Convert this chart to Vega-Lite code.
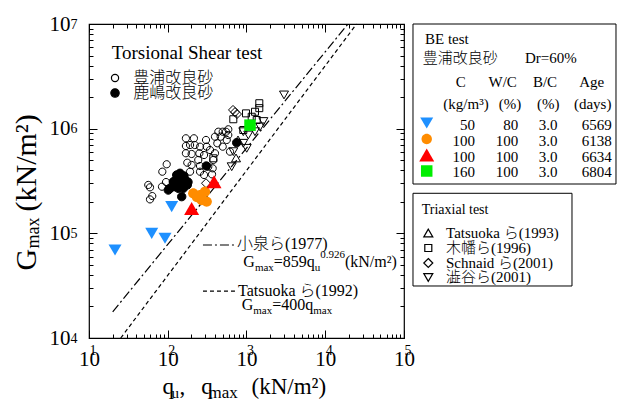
{
  "$schema": "https://vega.github.io/schema/vega-lite/v6.json",
  "width": 315,
  "height": 314,
  "autosize": {"type": "none"},
  "padding": {"left": 89, "top": 24, "right": 215, "bottom": 68},
  "background": "white",
  "config": {
    "view": {"stroke": "black", "strokeWidth": 1.2},
    "axis": {"grid": false, "domain": false, "labelFont": "Liberation Serif", "titleFont": "Liberation Serif", "labelColor": "black", "titleColor": "black", "tickColor": "black", "tickWidth": 1, "titleFontWeight": "normal", "labelFlush": false, "labelOverlap": false, "labelBound": false, "titlePadding": 0}
  },
  "datasets": {
    "pts": [
      {"s": "shibuya01", "q": 2994, "G": 2100000}, {"s": "shibuya01", "q": 1635, "G": 1170000}, {"s": "shibuya01", "q": 1484, "G": 1040000}, {"s": "shibuya01", "q": 1282, "G": 935000}, {"s": "shibuya01", "q": 911, "G": 935000}, {"s": "shibuya01", "q": 1054, "G": 870000}, {"s": "shibuya01", "q": 911, "G": 725000}, {"s": "shibuya01", "q": 1006, "G": 649000}, {"s": "shibuya01", "q": 680, "G": 603000}, {"s": "shibuya01", "q": 649, "G": 433000},
      {"s": "kohata96", "q": 1454, "G": 1750000}, {"s": "kohata96", "q": 1454, "G": 1570000}, {"s": "kohata96", "q": 1282, "G": 1450000}, {"s": "kohata96", "q": 986, "G": 1400000}, {"s": "kohata96", "q": 680, "G": 1230000}, {"s": "kohata96", "q": 1164, "G": 1300000}, {"s": "kohata96", "q": 1348, "G": 1210000}, {"s": "kohata96", "q": 911, "G": 971000}, {"s": "kohata96", "q": 379, "G": 521000},
      {"s": "schnaid01", "q": 674, "G": 1510000}, {"s": "schnaid01", "q": 715, "G": 1440000}, {"s": "schnaid01", "q": 758, "G": 1380000}, {"s": "schnaid01", "q": 306, "G": 301000},
      {"s": "tatsuoka93", "q": 780, "G": 780000}, {"s": "tatsuoka93", "q": 736, "G": 525000},
      {"s": "toyoura", "q": 56.6, "G": 290000}, {"s": "toyoura", "q": 59.5, "G": 275000}, {"s": "toyoura", "q": 63.6, "G": 227000}, {"s": "toyoura", "q": 59.5, "G": 211000}, {"s": "toyoura", "q": 84.5, "G": 279000}, {"s": "toyoura", "q": 85.3, "G": 388000}, {"s": "toyoura", "q": 97, "G": 457000}, {"s": "toyoura", "q": 95.1, "G": 309000},
      {"s": "toyoura", "q": 170, "G": 809000}, {"s": "toyoura", "q": 215, "G": 809000}, {"s": "toyoura", "q": 306, "G": 780000}, {"s": "toyoura", "q": 170, "G": 683000}, {"s": "toyoura", "q": 192, "G": 698000}, {"s": "toyoura", "q": 220, "G": 698000}, {"s": "toyoura", "q": 257, "G": 673000}, {"s": "toyoura", "q": 312, "G": 673000},
      {"s": "toyoura", "q": 170, "G": 582000}, {"s": "toyoura", "q": 201, "G": 573000}, {"s": "toyoura", "q": 252, "G": 582000}, {"s": "toyoura", "q": 289, "G": 560000}, {"s": "toyoura", "q": 344, "G": 625000}, {"s": "toyoura", "q": 177, "G": 473000}, {"s": "toyoura", "q": 201, "G": 450000}, {"s": "toyoura", "q": 257, "G": 440000},
      {"s": "toyoura", "q": 244, "G": 502000}, {"s": "toyoura", "q": 379, "G": 502000}, {"s": "toyoura", "q": 398, "G": 582000}, {"s": "toyoura", "q": 426, "G": 725000}, {"s": "toyoura", "q": 439, "G": 935000}, {"s": "toyoura", "q": 499, "G": 935000}, {"s": "toyoura", "q": 549, "G": 935000}, {"s": "toyoura", "q": 587, "G": 986000},
      {"s": "toyoura", "q": 470, "G": 838000}, {"s": "toyoura", "q": 587, "G": 870000}, {"s": "toyoura", "q": 499, "G": 673000}, {"s": "toyoura", "q": 617, "G": 603000}, {"s": "toyoura", "q": 561, "G": 780000}, {"s": "toyoura", "q": 372, "G": 418000}, {"s": "toyoura", "q": 365, "G": 366000}, {"s": "toyoura", "q": 327, "G": 433000},
      {"s": "toyoura", "q": 192, "G": 388000}, {"s": "toyoura", "q": 257, "G": 388000}, {"s": "toyoura", "q": 289, "G": 361000}, {"s": "toyoura", "q": 398, "G": 838000},
      {"s": "kashima", "q": 106.8, "G": 269000}, {"s": "kashima", "q": 117.6, "G": 311000}, {"s": "kashima", "q": 129.9, "G": 361000}, {"s": "kashima", "q": 143.1, "G": 375000}, {"s": "kashima", "q": 150.4, "G": 343000}, {"s": "kashima", "q": 165.6, "G": 323000}, {"s": "kashima", "q": 177.1, "G": 290000}, {"s": "kashima", "q": 157.6, "G": 269000}, {"s": "kashima", "q": 136.1, "G": 269000},
      {"s": "kashima", "q": 120.1, "G": 279000}, {"s": "kashima", "q": 143.1, "G": 301000}, {"s": "kashima", "q": 127.3, "G": 323000}, {"s": "kashima", "q": 101.6, "G": 259000}, {"s": "kashima", "q": 150.4, "G": 224000}, {"s": "kashima", "q": 308.7, "G": 440000}, {"s": "kashima", "q": 750.8, "G": 735000}, {"s": "kashima", "q": 160.8, "G": 353000}, {"s": "kashima", "q": 180.8, "G": 309000},
      {"s": "BE50", "q": 21.4, "G": 69300}, {"s": "BE50", "q": 62.6, "G": 100000}, {"s": "BE50", "q": 92.3, "G": 89700}, {"s": "BE50", "q": 112.2, "G": 180000},
      {"s": "BE100o", "q": 211, "G": 241000}, {"s": "BE100o", "q": 257, "G": 232000}, {"s": "BE100o", "q": 297, "G": 250000}, {"s": "BE100o", "q": 312, "G": 201000}, {"s": "BE100o", "q": 270, "G": 208000}, {"s": "BE100o", "q": 235, "G": 222000},
      {"s": "BE100t", "q": 387, "G": 311000}, {"s": "BE100t", "q": 201, "G": 173000},
      {"s": "BE160", "q": 1108, "G": 1080000}
    ],
    "keys": [
      {"s": "toyoura", "q": 21.4, "G": 3050000}, {"s": "kashima", "q": 21.4, "G": 2190000},
      {"s": "BE50", "q": 194300, "G": 1133000}, {"s": "BE100o", "q": 194300, "G": 796800}, {"s": "BE100t", "q": 194300, "G": 560300}, {"s": "BE160", "q": 194300, "G": 394100},
      {"s": "tatsuoka93", "q": 203500, "G": 100700}, {"s": "kohata96", "q": 203500, "G": 72400}, {"s": "schnaid01", "q": 203500, "G": 52060}, {"s": "shibuya01", "q": 203500, "G": 37860}
    ],
    "lines": [
      {"id": "Koizumi 1977", "type": "dashdot", "q": 20, "G": 17800}, {"id": "Koizumi 1977", "type": "dashdot", "q": 19450, "G": 10000000},
      {"id": "Tatsuoka 1992", "type": "dash", "q": 25.3, "G": 10000}, {"id": "Tatsuoka 1992", "type": "dash", "q": 25000, "G": 10000000},
      {"id": "key Koizumi", "type": "dashdot", "q": 280, "G": 77400}, {"id": "key Koizumi", "type": "dashdot", "q": 736, "G": 77400},
      {"id": "key Tatsuoka", "type": "dash", "q": 280, "G": 28100}, {"id": "key Tatsuoka", "type": "dash", "q": 736, "G": 28100}
    ],
    "boxes": [
      {"box": "BE test", "x1": 130100, "x2": 49200000, "y1": 10000000, "y2": 296000},
      {"box": "Triaxial test", "x1": 130100, "x2": 13590000, "y1": 241300, "y2": 31400}
    ],
    "t19": [{"t": "Torsional Shear test", "q": 19.4, "G": 4630000}],
    "t16m": [
      {"t": "豊浦改良砂", "q": 36.5, "G": 3050000}, {"t": "鹿嶋改良砂", "q": 36.5, "G": 2190000},
      {"t": "小泉ら(1977)", "q": 757, "G": 79100}, {"t": "Tatsuoka ら(1992)", "q": 780, "G": 28120}
    ],
    "t16a": [
      {"t": "G", "q": 911, "G": 47690}, {"t": "=859q", "q": 2221, "G": 47690}, {"t": "(kN/m²)", "q": 17810, "G": 47690},
      {"t": "G", "q": 869, "G": 18520}, {"t": "=400q", "q": 2120, "G": 18520}
    ],
    "t11a": [
      {"t": "max", "q": 1279, "G": 43680}, {"t": "u", "q": 7369, "G": 43680}, {"t": "0.926", "q": 8652, "G": 57500},
      {"t": "max", "q": 1220, "G": 16960}, {"t": "max", "q": 7031, "G": 16960}
    ],
    "t15l": [
      {"t": "BE test", "q": 184800, "G": 7190000}, {"t": "豊浦改良砂", "q": 172800, "G": 4700000}, {"t": "Dr=60%", "q": 3440000, "G": 4700000},
      {"t": "Tatsuoka ら(1993)", "q": 341600, "G": 100700}, {"t": "木幡ら(1996)", "q": 341600, "G": 72400}, {"t": "Schnaid ら(2001)", "q": 341600, "G": 52060}, {"t": "澁谷ら(2001)", "q": 341600, "G": 37860}
    ],
    "t14l": [{"t": "Triaxial test", "q": 167800, "G": 167100}],
    "t15c": [
      {"t": "C", "q": 524800, "G": 2810000}, {"t": "W/C", "q": 1792000, "G": 2810000}, {"t": "B/C", "q": 6174000, "G": 2810000}, {"t": "Age", "q": 24180000, "G": 2810000},
      {"t": "(kg/m³)", "q": 612900, "G": 1709000}, {"t": "(%)", "q": 2218000, "G": 1709000}, {"t": "(%)", "q": 6799000, "G": 1709000}, {"t": "(days)", "q": 24900000, "G": 1709000},
      {"t": "3.0", "q": 6739000, "G": 1084000}, {"t": "3.0", "q": 6739000, "G": 762500}, {"t": "3.0", "q": 6739000, "G": 539800}, {"t": "3.0", "q": 6739000, "G": 388100}
    ],
    "t15r": [
      {"t": "50", "q": 797400, "G": 1084000}, {"t": "100", "q": 797400, "G": 762500}, {"t": "100", "q": 797400, "G": 539800}, {"t": "160", "q": 797400, "G": 388100},
      {"t": "80", "q": 2828000, "G": 1084000}, {"t": "100", "q": 2828000, "G": 762500}, {"t": "100", "q": 2828000, "G": 539800}, {"t": "100", "q": 2828000, "G": 388100},
      {"t": "6569", "q": 43400000, "G": 1084000}, {"t": "6138", "q": 43400000, "G": 762500}, {"t": "6634", "q": 43400000, "G": 539800}, {"t": "6804", "q": 43400000, "G": 388100}
    ]
  },
  "layer": [
    {
      "data": {"name": "boxes"},
      "mark": {"type": "rect", "fill": "black", "xOffset": 3, "yOffset": 3},
      "encoding": {
        "x": {"field": "x1", "type": "quantitative", "scale": {"type": "log", "domain": [10, 100000], "nice": false}, "axis": null},
        "x2": {"field": "x2"},
        "y": {"field": "y1", "type": "quantitative", "scale": {"type": "log", "domain": [10000, 10000000], "nice": false}, "axis": null},
        "y2": {"field": "y2"}
      }
    },
    {
      "data": {"name": "boxes"},
      "mark": {"type": "rect", "fill": "white", "stroke": "black", "strokeWidth": 1},
      "encoding": {
        "x": {"field": "x1", "type": "quantitative", "scale": {"type": "log", "domain": [10, 100000], "nice": false}, "axis": null},
        "x2": {"field": "x2"},
        "y": {"field": "y1", "type": "quantitative", "scale": {"type": "log", "domain": [10000, 10000000], "nice": false}, "axis": null},
        "y2": {"field": "y2"}
      }
    },
    {
      "data": {"name": "lines"},
      "mark": {"type": "line", "color": "black", "strokeWidth": 1.2},
      "encoding": {
        "x": {"field": "q", "type": "quantitative", "scale": {"type": "log", "domain": [10, 100000], "nice": false},
          "axis": {"orient": "bottom", "values": [10, 100, 1000, 10000, 100000], "ticks": false, "labelExpr": "'10'", "labelFontSize": 21, "labelAlign": "center", "labelBaseline": "alphabetic", "labelPadding": 27,
            "title": "q", "titleFontSize": 23, "titleX": 73, "titleY": 55, "titleAlign": "left", "titleBaseline": "alphabetic", "titleAngle": 0}},
        "y": {"field": "G", "type": "quantitative", "scale": {"type": "log", "domain": [10000, 10000000], "nice": false},
          "axis": {"orient": "left", "values": [10000, 100000, 1000000, 10000000], "ticks": false, "labelExpr": "'10'", "labelFontSize": 21, "labelAlign": "right", "labelBaseline": "middle", "labelPadding": 19, "labelDy": -1,
            "title": "G", "titleFontSize": 30, "titleX": -54, "titleY": 246, "titleAlign": "left", "titleBaseline": "alphabetic", "titleAngle": 270}},
        "detail": {"field": "id", "type": "nominal"},
        "strokeDash": {"field": "type", "type": "nominal", "scale": {"domain": ["dashdot", "dash"], "range": [[9, 3, 2, 3], [4, 3]]}, "legend": null}
      }
    },
    {
      "data": {"name": "pts"},
      "mark": {"type": "point", "opacity": 1, "strokeWidth": 1, "size": 4},
      "encoding": {
        "x": {"field": "q", "type": "quantitative", "scale": {"type": "log", "domain": [10, 100000], "nice": false},
          "axis": {"orient": "bottom", "values": [10, 100, 1000, 10000, 100000], "ticks": false, "labelExpr": "'' + round(log(datum.value) / LN10)", "labelFontSize": 14, "labelAlign": "left", "labelBaseline": "alphabetic", "labelPadding": 16, "labelDx": 11,
            "title": "u", "titleFontSize": 15, "titleX": 82, "titleY": 59, "titleAlign": "left", "titleBaseline": "alphabetic", "titleAngle": 0}},
        "y": {"field": "G", "type": "quantitative", "scale": {"type": "log", "domain": [10000, 10000000], "nice": false},
          "axis": {"orient": "left", "values": [10000, 100000, 1000000, 10000000], "ticks": false, "labelExpr": "'' + round(log(datum.value) / LN10)", "labelFontSize": 14, "labelAlign": "left", "labelBaseline": "middle", "labelPadding": 19, "labelDy": -7,
            "title": "max", "titleFontSize": 18, "titleX": -51, "titleY": 224, "titleAlign": "left", "titleBaseline": "alphabetic", "titleAngle": 270}},
        "shape": {"field": "s", "type": "nominal", "legend": null, "scale": {
          "domain": ["toyoura", "kashima", "BE50", "BE100o", "BE100t", "BE160", "tatsuoka93", "kohata96", "schnaid01", "shibuya01"],
          "range": ["M3.6,0A3.6,3.6,0,1,1,-3.6,0A3.6,3.6,0,1,1,3.6,0Z", "M4.2,0A4.2,4.2,0,1,1,-4.2,0A4.2,4.2,0,1,1,4.2,0Z", "M0,5.6L-6.5,-5.6L6.5,-5.6Z", "M5.2,0A5.2,5.2,0,1,1,-5.2,0A5.2,5.2,0,1,1,5.2,0Z", "M0,-6.5L-7.5,6.5L7.5,6.5Z", "M-5.75,-5.75L5.75,-5.75L5.75,5.75L-5.75,5.75Z", "M0,-3.9L-4.5,3.9L4.5,3.9Z", "M-3.5,-3.5L3.5,-3.5L3.5,3.5L-3.5,3.5Z", "M0,-4.5L4.5,0L0,4.5L-4.5,0Z", "M0,3.9L-4.5,-3.9L4.5,-3.9Z"]}},
        "fill": {"field": "s", "type": "nominal", "legend": null, "scale": {
          "domain": ["toyoura", "kashima", "BE50", "BE100o", "BE100t", "BE160", "tatsuoka93", "kohata96", "schnaid01", "shibuya01"],
          "range": ["transparent", "black", "#1E90FF", "#FF8C00", "#FF0000", "#00EE00", "transparent", "transparent", "transparent", "transparent"]}},
        "stroke": {"field": "s", "type": "nominal", "legend": null, "scale": {
          "domain": ["toyoura", "kashima", "BE50", "BE100o", "BE100t", "BE160", "tatsuoka93", "kohata96", "schnaid01", "shibuya01"],
          "range": ["black", "black", "transparent", "transparent", "transparent", "transparent", "black", "black", "black", "black"]}}
      }
    },
    {
      "data": {"name": "keys"},
      "mark": {"type": "point", "opacity": 1, "strokeWidth": 1.2, "size": 4},
      "encoding": {
        "x": {"field": "q", "type": "quantitative", "scale": {"type": "log", "domain": [10, 100000], "nice": false},
          "axis": {"orient": "bottom", "values": [10, 100, 1000, 10000, 100000], "labels": false, "tickSize": -8,
            "title": ",\u2002\u2009q", "titleFontSize": 23, "titleX": 90, "titleY": 55, "titleAlign": "left", "titleBaseline": "alphabetic", "titleAngle": 0}},
        "y": {"field": "G", "type": "quantitative", "scale": {"type": "log", "domain": [10000, 10000000], "nice": false},
          "axis": {"orient": "left", "values": [10000, 100000, 1000000, 10000000], "labels": false, "tickSize": -8,
            "title": "(kN/m²)", "titleFontSize": 30, "titleX": -54, "titleY": 187, "titleAlign": "left", "titleBaseline": "alphabetic", "titleAngle": 270}},
        "shape": {"field": "s", "type": "nominal", "legend": null, "scale": {
          "domain": ["toyoura", "kashima", "BE50", "BE100o", "BE100t", "BE160", "tatsuoka93", "kohata96", "schnaid01", "shibuya01"],
          "range": ["M3.6,0A3.6,3.6,0,1,1,-3.6,0A3.6,3.6,0,1,1,3.6,0Z", "M4.2,0A4.2,4.2,0,1,1,-4.2,0A4.2,4.2,0,1,1,4.2,0Z", "M0,5.6L-6.5,-5.6L6.5,-5.6Z", "M5.2,0A5.2,5.2,0,1,1,-5.2,0A5.2,5.2,0,1,1,5.2,0Z", "M0,-6.5L-7.5,6.5L7.5,6.5Z", "M-5.75,-5.75L5.75,-5.75L5.75,5.75L-5.75,5.75Z", "M0,-3.9L-4.5,3.9L4.5,3.9Z", "M-3.5,-3.5L3.5,-3.5L3.5,3.5L-3.5,3.5Z", "M0,-4.5L4.5,0L0,4.5L-4.5,0Z", "M0,3.9L-4.5,-3.9L4.5,-3.9Z"]}},
        "fill": {"field": "s", "type": "nominal", "legend": null, "scale": {
          "domain": ["toyoura", "kashima", "BE50", "BE100o", "BE100t", "BE160", "tatsuoka93", "kohata96", "schnaid01", "shibuya01"],
          "range": ["transparent", "black", "#1E90FF", "#FF8C00", "#FF0000", "#00EE00", "transparent", "transparent", "transparent", "transparent"]}},
        "stroke": {"field": "s", "type": "nominal", "legend": null, "scale": {
          "domain": ["toyoura", "kashima", "BE50", "BE100o", "BE100t", "BE160", "tatsuoka93", "kohata96", "schnaid01", "shibuya01"],
          "range": ["black", "black", "transparent", "transparent", "transparent", "transparent", "black", "black", "black", "black"]}}
      }
    },
    {
      "data": {"name": "t19"},
      "mark": {"type": "text", "align": "left", "baseline": "alphabetic", "fontSize": 19, "font": "Liberation Serif, Noto Sans CJK JP", "color": "black"},
      "encoding": {
        "x": {"field": "q", "type": "quantitative", "scale": {"type": "log", "domain": [10, 100000], "nice": false},
          "axis": {"orient": "bottom", "values": [20, 30, 40, 50, 60, 70, 80, 90, 200, 300, 400, 500, 600, 700, 800, 900, 2000, 3000, 4000, 5000, 6000, 7000, 8000, 9000, 20000, 30000, 40000, 50000, 60000, 70000, 80000, 90000], "labels": false, "tickSize": -4,
            "title": "max", "titleFontSize": 17, "titleX": 119, "titleY": 59, "titleAlign": "left", "titleBaseline": "alphabetic", "titleAngle": 0}},
        "y": {"field": "G", "type": "quantitative", "scale": {"type": "log", "domain": [10000, 10000000], "nice": false},
          "axis": {"orient": "left", "values": [20000, 30000, 40000, 50000, 60000, 70000, 80000, 90000, 200000, 300000, 400000, 500000, 600000, 700000, 800000, 900000, 2000000, 3000000, 4000000, 5000000, 6000000, 7000000, 8000000, 9000000], "labels": false, "tickSize": -4, "title": null}},
        "text": {"field": "t"}
      }
    },
    {
      "data": {"name": "t16m"},
      "mark": {"type": "text", "align": "left", "baseline": "middle", "fontSize": 16, "fontWeight": 300, "font": "Liberation Serif, Noto Sans CJK JP", "color": "black"},
      "encoding": {
        "x": {"field": "q", "type": "quantitative", "scale": {"type": "log", "domain": [10, 100000], "nice": false},
          "axis": {"orient": "top", "values": [10, 100, 1000, 10000, 100000], "labels": false, "tickSize": -8,
            "title": "(kN/m²)", "titleFontSize": 23, "titleX": 162, "titleY": 369, "titleAlign": "left", "titleBaseline": "alphabetic", "titleAngle": 0}},
        "y": {"field": "G", "type": "quantitative", "scale": {"type": "log", "domain": [10000, 10000000], "nice": false},
          "axis": {"orient": "right", "values": [10000, 100000, 1000000, 10000000], "labels": false, "tickSize": -8, "title": null}},
        "text": {"field": "t"}
      }
    },
    {
      "data": {"name": "t16a"},
      "mark": {"type": "text", "align": "left", "baseline": "alphabetic", "fontSize": 16, "font": "Liberation Serif, Noto Sans CJK JP", "color": "black"},
      "encoding": {
        "x": {"field": "q", "type": "quantitative", "scale": {"type": "log", "domain": [10, 100000], "nice": false},
          "axis": {"orient": "top", "values": [20, 30, 40, 50, 60, 70, 80, 90, 200, 300, 400, 500, 600, 700, 800, 900, 2000, 3000, 4000, 5000, 6000, 7000, 8000, 9000, 20000, 30000, 40000, 50000, 60000, 70000, 80000, 90000], "labels": false, "tickSize": -4, "title": null}},
        "y": {"field": "G", "type": "quantitative", "scale": {"type": "log", "domain": [10000, 10000000], "nice": false},
          "axis": {"orient": "right", "values": [20000, 30000, 40000, 50000, 60000, 70000, 80000, 90000, 200000, 300000, 400000, 500000, 600000, 700000, 800000, 900000, 2000000, 3000000, 4000000, 5000000, 6000000, 7000000, 8000000, 9000000], "labels": false, "tickSize": -4, "title": null}},
        "text": {"field": "t"}
      }
    },
    {
      "data": {"name": "t11a"},
      "mark": {"type": "text", "align": "left", "baseline": "alphabetic", "fontSize": 11, "font": "Liberation Serif", "color": "black"},
      "encoding": {
        "x": {"field": "q", "type": "quantitative", "scale": {"type": "log", "domain": [10, 100000], "nice": false}, "axis": null},
        "y": {"field": "G", "type": "quantitative", "scale": {"type": "log", "domain": [10000, 10000000], "nice": false}, "axis": null},
        "text": {"field": "t"}
      }
    },
    {
      "data": {"name": "t15l"},
      "mark": {"type": "text", "align": "left", "baseline": "middle", "fontSize": 15, "fontWeight": 300, "font": "Liberation Serif, Noto Sans CJK JP", "color": "black"},
      "encoding": {
        "x": {"field": "q", "type": "quantitative", "scale": {"type": "log", "domain": [10, 100000], "nice": false}, "axis": null},
        "y": {"field": "G", "type": "quantitative", "scale": {"type": "log", "domain": [10000, 10000000], "nice": false}, "axis": null},
        "text": {"field": "t"}
      }
    },
    {
      "data": {"name": "t14l"},
      "mark": {"type": "text", "align": "left", "baseline": "middle", "fontSize": 14, "font": "Liberation Serif", "color": "black"},
      "encoding": {
        "x": {"field": "q", "type": "quantitative", "scale": {"type": "log", "domain": [10, 100000], "nice": false}, "axis": null},
        "y": {"field": "G", "type": "quantitative", "scale": {"type": "log", "domain": [10000, 10000000], "nice": false}, "axis": null},
        "text": {"field": "t"}
      }
    },
    {
      "data": {"name": "t15c"},
      "mark": {"type": "text", "align": "center", "baseline": "middle", "fontSize": 15, "font": "Liberation Serif", "color": "black"},
      "encoding": {
        "x": {"field": "q", "type": "quantitative", "scale": {"type": "log", "domain": [10, 100000], "nice": false}, "axis": null},
        "y": {"field": "G", "type": "quantitative", "scale": {"type": "log", "domain": [10000, 10000000], "nice": false}, "axis": null},
        "text": {"field": "t"}
      }
    },
    {
      "data": {"name": "t15r"},
      "mark": {"type": "text", "align": "right", "baseline": "middle", "fontSize": 15, "font": "Liberation Serif", "color": "black"},
      "encoding": {
        "x": {"field": "q", "type": "quantitative", "scale": {"type": "log", "domain": [10, 100000], "nice": false}, "axis": null},
        "y": {"field": "G", "type": "quantitative", "scale": {"type": "log", "domain": [10000, 10000000], "nice": false}, "axis": null},
        "text": {"field": "t"}
      }
    }
  ],
  "resolve": {"axis": {"x": "independent", "y": "independent"}}
}
